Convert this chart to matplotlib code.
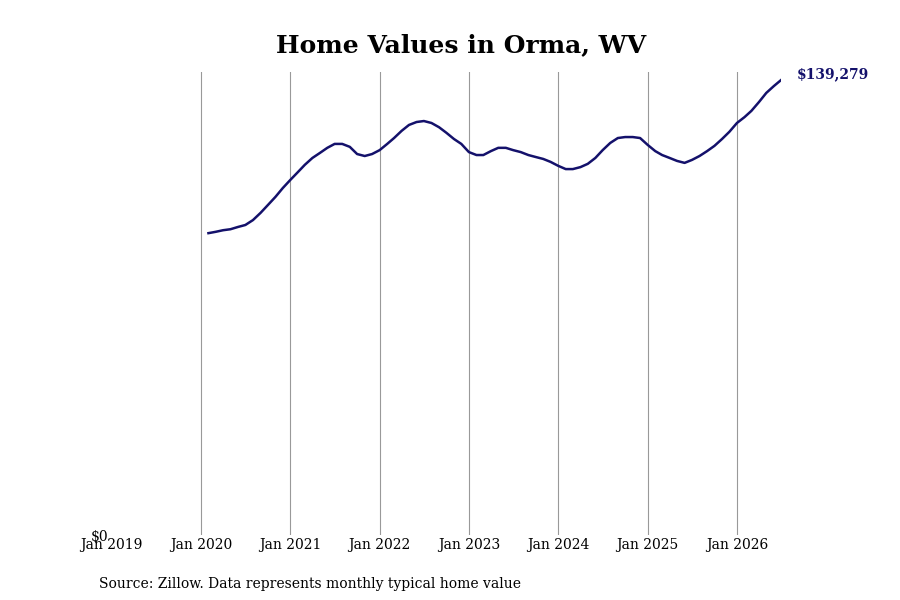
import matplotlib
matplotlib.use("Agg")
import matplotlib.pyplot as plt
import numpy as np
import pandas as pd

start = "2020-02-01"
values = [92.4,92.8,93.3,93.6,94.3,94.9,96.4,98.6,101.0,103.5,106.2,
          108.7,111.1,113.3,115.4,116.9,118.5,119.7,119.7,118.8,116.6,116.0,116.6,
          117.8,119.7,121.5,123.7,125.5,126.4,126.7,126.1,124.8,123.1,121.2,119.7,
          117.2,116.3,116.3,117.5,118.5,118.5,117.8,117.2,116.3,115.7,115.1,114.2,
          113.0,112.0,112.0,112.6,113.6,115.4,117.8,120.0,121.5,121.8,121.8,121.5,
          119.4,117.5,116.3,115.4,114.5,113.9,114.8,116.0,117.5,119.1,121.2,123.4,
          126.1,127.9,129.8,132.5,135.3,137.4,139.279]
values = [v * 1000 for v in values]
dates = pd.date_range(start, periods=len(values), freq="MS")
tick_years = list(range(2019, 2027))
tick_labels = [f"Jan {y}" for y in tick_years]

plt.rcParams['font.family'] = ['DejaVu Serif']
fig = plt.figure(figsize=(9, 6), dpi=100)
ax = fig.add_axes([0.124, 0.108, 0.744, 0.772])
ax.plot(dates, values, color="#14116b", lw=1.8)
ticks = [pd.Timestamp(f"{y}-01-01") for y in tick_years]
ax.set_xticks(ticks)
ax.set_xticklabels(tick_labels, fontsize=10)
ax.set_xlim(pd.Timestamp("2019-01-01"), dates[-1])
ax.set_ylim(0, 141700)
ax.set_yticks([0])
ax.set_yticklabels(["$0"], fontsize=10)
ax.tick_params(length=0, pad=2)
for t in ticks[1:]:
    ax.axvline(t, color="#999999", lw=0.8, zorder=0)
for s in ax.spines.values():
    s.set_visible(False)
ax.annotate(f"${values[-1]:,.0f}", (dates[-1], values[-1]), xytext=(11, 1),
            textcoords="offset points", color="#14116b", fontsize=10, fontweight="bold")
fig.text(0.512, 0.913, "Home Values in Orma, WV", ha="center", fontsize=18, fontweight="bold")
fig.text(0.11, 0.02, "Source: Zillow. Data represents monthly typical home value", fontsize=10)
fig.savefig("out.png")
